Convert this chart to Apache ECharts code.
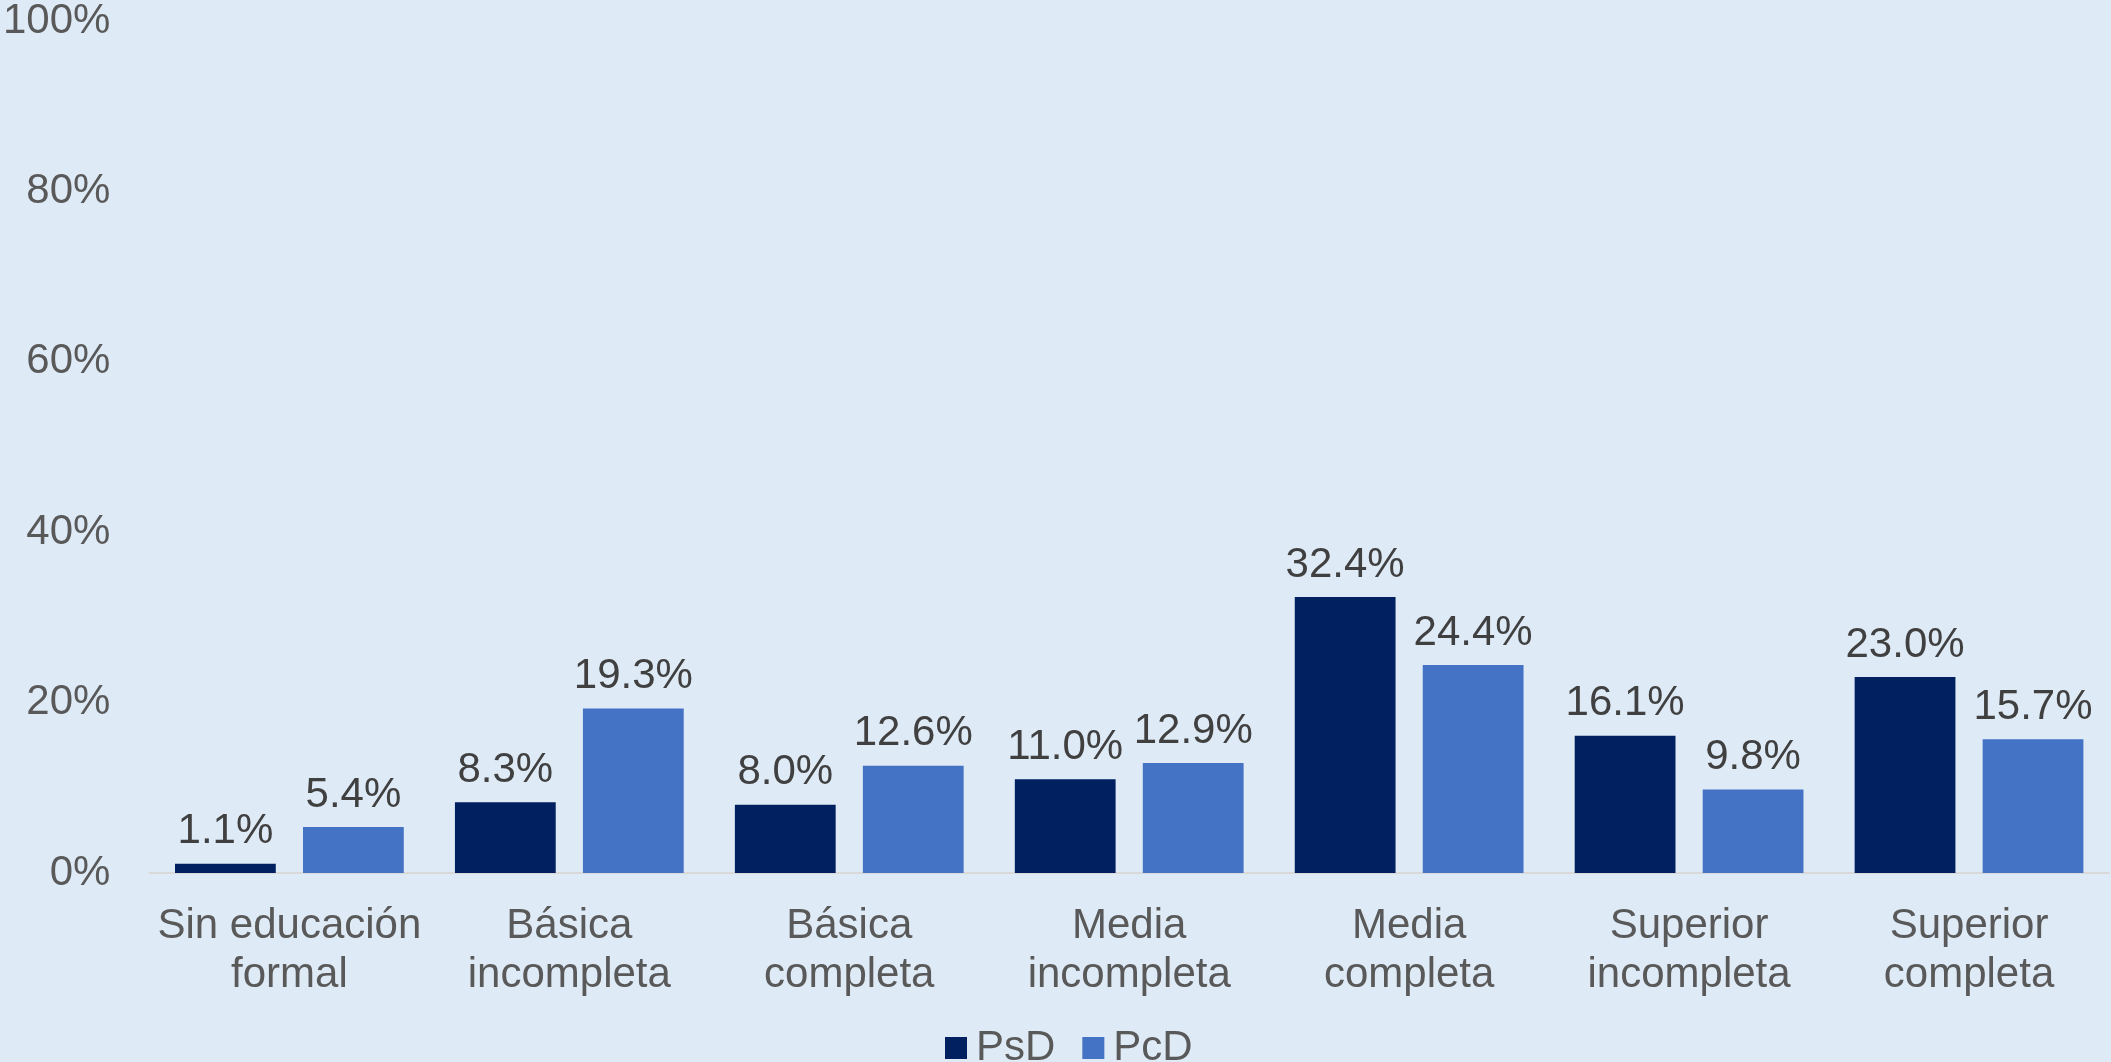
<!DOCTYPE html>
<html>
<head>
<meta charset="utf-8">
<script src="https://cdn.jsdelivr.net/npm/echarts@6/dist/echarts.min.js"></script>
<style>
html,body{margin:0;padding:0;background:#DEEAF6;}
#c{width:2111px;height:1062px;}
</style>
</head>
<body>
<div id="c"></div>
<script>
const categories = ['Sin educación\nformal','Básica\nincompleta','Básica\ncompleta','Media\nincompleta','Media\ncompleta','Superior\nincompleta','Superior\ncompleta'];
const psd = [1.1, 8.3, 8.0, 11.0, 32.4, 16.1, 23.0];
const pcd = [5.4, 19.3, 12.6, 12.9, 24.4, 9.8, 15.7];
const seriesNames = ['PsD','PcD'];
const yTicks = {min:0, max:100, interval:20};

const font = 'Arial, "Liberation Sans", sans-serif';
const chart = echarts.init(document.getElementById('c'), null, {renderer:'canvas'});
const labelOpt = {
  show:true, position:'top', distance:11,
  formatter: p => p.value.toFixed(1) + '%',
  color:'#404040', fontSize:42, fontFamily:font
};
chart.setOption({
  backgroundColor:'#DEEAF6',
  animation:false,
  grid:{left:149, right:2, top:18, bottom:189, containLabel:false},
  legend:{
    data:seriesNames, top:1022, left:940,
    itemWidth:22, itemHeight:22, itemGap:27,
    icon:'rect',
    textStyle:{color:'#595959', fontSize:42, fontFamily:font, padding:[0,0,0,4]}
  },
  xAxis:{
    type:'category', data:categories,
    axisLine:{show:true, lineStyle:{color:'#D9D9D9', width:2}},
    axisTick:{show:false},
    axisLabel:{color:'#595959', fontSize:42, fontFamily:font, lineHeight:49, margin:29, interval:0}
  },
  yAxis:{
    type:'value', min:yTicks.min, max:yTicks.max, interval:yTicks.interval,
    axisLine:{show:false}, axisTick:{show:false},
    splitLine:{show:false},
    axisLabel:{color:'#595959', fontSize:42, fontFamily:font, formatter:'{value}%', margin:39}
  },
  series:[
    {name:seriesNames[0], type:'bar', data:psd, itemStyle:{color:'#002060'},
     barWidth:'36%', barGap:'27%', label:labelOpt},
    {name:seriesNames[1], type:'bar', data:pcd, itemStyle:{color:'#4472C4'},
     barWidth:'36%', label:labelOpt}
  ]
});
</script>
</body>
</html>
